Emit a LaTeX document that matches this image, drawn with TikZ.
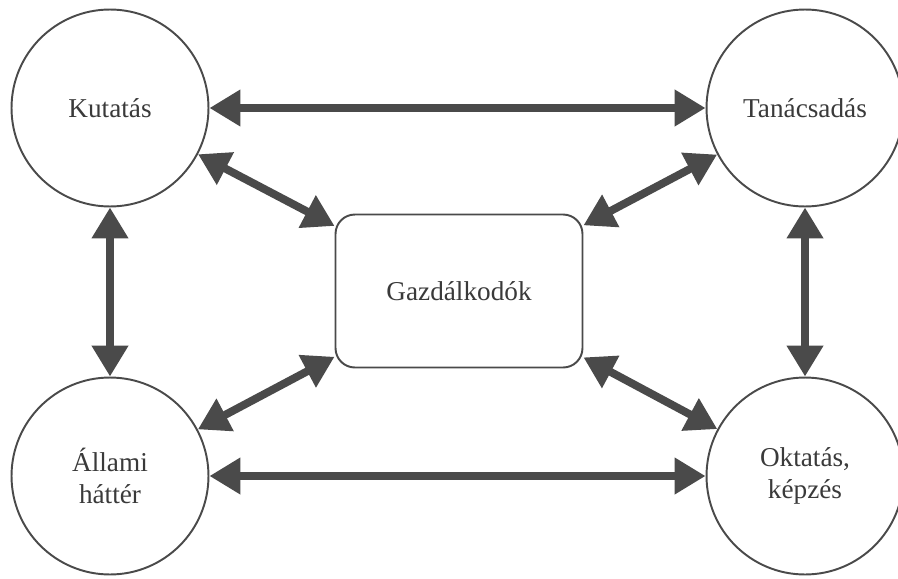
\documentclass[tikz,border=0pt]{standalone}
\usepackage{fontspec}
\setmainfont{Liberation Serif}
\usetikzlibrary{arrows.meta}
\definecolor{linegray}{HTML}{4A4A4A}
\definecolor{textgray}{HTML}{3A3A3A}
\tikzset{
    circle-box/.style = {draw=linegray, fill=white, line width=1.1pt, circle, minimum size=3.94cm, inner sep=0pt, align=center, text=textgray, font=\fontsize{15.5}{18}\selectfont},
    rounded-box/.style = {draw=linegray, fill=white, line width=1.1pt, rectangle, rounded corners=11pt, minimum width=4.94cm, minimum height=3.06cm, text=textgray, font=\fontsize{15.5}{18}\selectfont},
    both-arrow/.style = {draw=linegray, line width=4.5pt, {Triangle[length=17.6pt,width=19.8pt]}-{Triangle[length=17.6pt,width=19.8pt]}},
}
\begin{document}
\begin{tikzpicture}[x=0.02cm, y=-0.02cm]
\useasboundingbox (0,0) rectangle (898,578);
\node[circle-box] (kutatas) at (110,108) {Kutatás};
\node[circle-box] (tanacs) at (805,108) {Tanácsadás};
\node[circle-box] (allami) at (110,476) {Állami\\háttér};
\node[circle-box] (oktatas) at (805,476) {Oktatás,\\képzés};
\node[rounded-box] (gazda) at (459,291) {Gazdálkodók};
% connectors
\draw[both-arrow] (kutatas) -- (tanacs);
\draw[both-arrow] (allami) -- (oktatas);
\draw[both-arrow] (kutatas) -- (allami);
\draw[both-arrow] (tanacs) -- (oktatas);
\draw[both-arrow] (kutatas) -- (gazda);
\draw[both-arrow] (tanacs) -- (gazda);
\draw[both-arrow] (allami) -- (gazda);
\draw[both-arrow] (oktatas) -- (gazda);
\end{tikzpicture}
\end{document}
